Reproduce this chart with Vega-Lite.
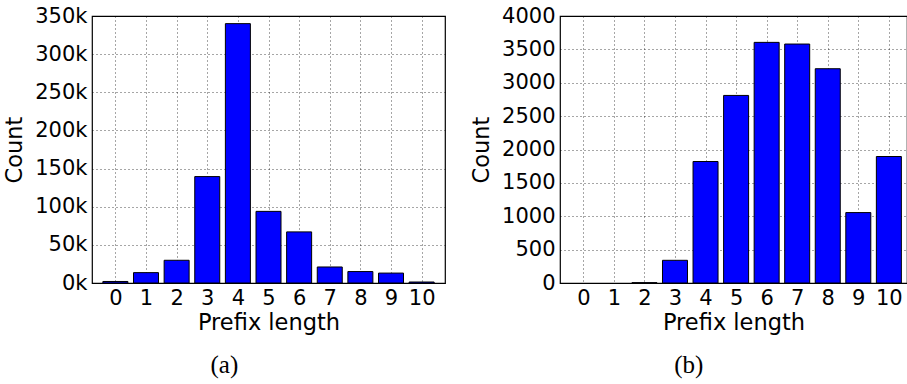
{
  "$schema": "https://vega.github.io/schema/vega-lite/v6.json",
  "autosize": {"type": "none"},
  "padding": {"left": 92, "top": 16, "right": 815, "bottom": 368},
  "background": "white",
  "spacing": 23,
  "datasets": {
    "a": [
      {"prefix": 0, "count": 2000},
      {"prefix": 1, "count": 13600},
      {"prefix": 2, "count": 29800},
      {"prefix": 3, "count": 139500},
      {"prefix": 4, "count": 340000},
      {"prefix": 5, "count": 93900},
      {"prefix": 6, "count": 67000},
      {"prefix": 7, "count": 21000},
      {"prefix": 8, "count": 15000},
      {"prefix": 9, "count": 13000},
      {"prefix": 10, "count": 1300}
    ],
    "b": [
      {"prefix": 2, "count": 5},
      {"prefix": 3, "count": 340},
      {"prefix": 4, "count": 1820},
      {"prefix": 5, "count": 2810},
      {"prefix": 6, "count": 3605},
      {"prefix": 7, "count": 3580},
      {"prefix": 8, "count": 3210},
      {"prefix": 9, "count": 1055},
      {"prefix": 10, "count": 1895}
    ]
  },
  "config": {
    "view": {"stroke": "black", "strokeWidth": 1.2},
    "font": "DejaVu Sans",
    "axis": {
      "labelFont": "DejaVu Sans",
      "titleFont": "DejaVu Sans",
      "labelFontSize": 21,
      "titleFontSize": 22.5,
      "titleFontWeight": "normal",
      "labelColor": "black",
      "titleColor": "black",
      "domain": false,
      "ticks": false,
      "gridColor": "black",
      "gridDash": [1, 3],
      "gridOpacity": 0.7,
      "gridWidth": 1
    },
    "title": {"font": "Liberation Serif", "fontSize": 25, "fontWeight": "normal", "color": "black"}
  },
  "hconcat": [
    {
      "data": {"name": "a"},
      "width": 353,
      "height": 267,
      "title": {"text": "(a)", "orient": "bottom", "frame": "bounds", "anchor": "middle", "offset": 19},
      "mark": {"type": "bar", "fill": "#0000ff", "stroke": "black", "strokeWidth": 1, "size": 25},
      "encoding": {
        "x": {
          "field": "prefix", "type": "quantitative",
          "scale": {"domain": [-0.6, 10.6], "nice": false, "zero": false},
          "axis": {"values": [0,1,2,3,4,5,6,7,8,9,10], "title": "Prefix length", "labelPadding": 4, "titlePadding": 3, "grid": true, "labelFlush": false}
        },
        "y": {
          "field": "count", "type": "quantitative",
          "scale": {"domain": [0, 350000], "nice": false},
          "axis": {"values": [0,50000,100000,150000,200000,250000,300000,350000], "labelExpr": "datum.value/1000 + 'k'", "title": "Count", "labelPadding": 5, "titlePadding": 8, "grid": true, "labelFlush": false}
        }
      }
    },
    {
      "data": {"name": "b"},
      "width": 347,
      "height": 267,
      "title": {"text": "(b)", "orient": "bottom", "frame": "bounds", "anchor": "middle", "offset": 19},
      "mark": {"type": "bar", "fill": "#0000ff", "stroke": "black", "strokeWidth": 1, "size": 25},
      "encoding": {
        "x": {
          "field": "prefix", "type": "quantitative",
          "scale": {"domain": [-0.6, 10.43], "nice": false, "zero": false},
          "axis": {"values": [0,1,2,3,4,5,6,7,8,9,10], "title": "Prefix length", "labelPadding": 4, "titlePadding": 3, "grid": true, "labelFlush": false}
        },
        "y": {
          "field": "count", "type": "quantitative",
          "scale": {"domain": [0, 4000], "nice": false},
          "axis": {"values": [0,500,1000,1500,2000,2500,3000,3500,4000], "format": "d", "title": "Count", "labelPadding": 5, "titlePadding": 8, "grid": true, "labelFlush": false}
        }
      }
    }
  ]
}
